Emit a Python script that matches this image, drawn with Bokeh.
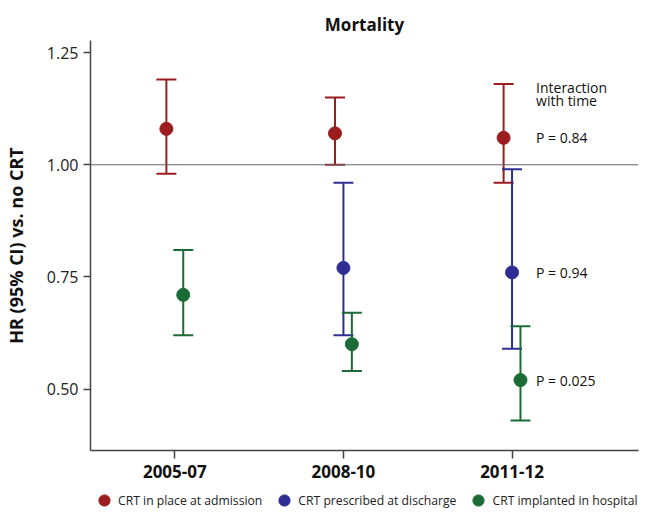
from bokeh.plotting import figure
from bokeh.layouts import column
from bokeh.models import (ColumnDataSource, Whisker, TeeHead, Legend, LegendItem,
                          FixedTicker, NumeralTickFormatter, Span, Range1d)
from bokeh.core.properties import value
from bokeh.embed import file_html
from bokeh.resources import INLINE

# ---------------- data ----------------
periods = ["2005-07", "2008-10", "2011-12"]
series_names = ["CRT in place at admission", "CRT prescribed at discharge", "CRT implanted in hospital"]
series_colors = ["#9b1d20", "#2e2e92", "#1a6b35"]

admission_hr = [1.08, 1.07, 1.06]
admission_lo = [0.98, 1.00, 0.96]
admission_hi = [1.19, 1.15, 1.18]

discharge_hr = [None, 0.77, 0.76]
discharge_lo = [None, 0.62, 0.59]
discharge_hi = [None, 0.96, 0.99]

implanted_hr = [0.71, 0.60, 0.52]
implanted_lo = [0.62, 0.54, 0.43]
implanted_hi = [0.81, 0.67, 0.64]

p_values = ["P = 0.84", "P = 0.94", "P = 0.025"]
interaction_lines = ["Interaction", "with time"]
y_ticks = [0.50, 0.75, 1.00, 1.25]
reference_hr = 1.0

FONT = "Open Sans"

series = [
    (admission_hr, admission_lo, admission_hi),
    (discharge_hr, discharge_lo, discharge_hi),
    (implanted_hr, implanted_lo, implanted_hi),
]
dodge = [-0.05, 0.0, 0.05]

p = figure(width=640, height=486, output_backend="svg", toolbar_location=None,
           x_range=Range1d(-0.5, 2.75), y_range=Range1d(0.363, 1.277),
           min_border_left=84, min_border_right=2, min_border_top=40, min_border_bottom=36)

p.title.text = "Mortality"
p.title.align = "center"
p.title.text_font = FONT
p.title.text_font_size = "17px"
p.title.text_font_style = "bold"
p.title.text_color = "#111111"

p.xgrid.visible = False
p.ygrid.visible = False
p.outline_line_color = None

ref = Span(location=reference_hr, dimension="width", line_color="#666666", line_width=1.2)
p.add_layout(ref)

# legend-only strip below the chart (shares the same data sources; points kept out of its view)
leg_fig = figure(width=640, height=28, output_backend="svg", toolbar_location=None,
                 x_range=Range1d(-0.5, 2.75), y_range=Range1d(10, 11),
                 x_axis_location=None, y_axis_location=None,
                 min_border_left=0, min_border_right=0, min_border_top=0, min_border_bottom=0)
leg_fig.xgrid.visible = False
leg_fig.ygrid.visible = False
leg_fig.outline_line_color = None
leg_fig.background_fill_alpha = 0
leg_fig.border_fill_alpha = 0

legend_items = []
for k, ((hr, lo, hi), name, col) in enumerate(zip(series, series_names, series_colors)):
    xs, ys, los, his = [], [], [], []
    for i, (h, l, u) in enumerate(zip(hr, lo, hi)):
        if h is None:
            continue
        xs.append(i + dodge[k]); ys.append(h); los.append(l); his.append(u)
    src = ColumnDataSource(dict(x=xs, y=ys, lower=los, upper=his))
    w = Whisker(source=src, base="x", lower="lower", upper="upper", dimension="height",
                line_color=col, line_width=2,
                upper_head=TeeHead(size=20, line_color=col, line_width=2),
                lower_head=TeeHead(size=20, line_color=col, line_width=2))
    p.add_layout(w)
    p.scatter("x", "y", source=src, size=13, color=col, line_color=col)
    r2 = leg_fig.scatter("x", "y", source=src, size=13, color=col, line_color=col)
    legend_items.append(LegendItem(label=name, renderers=[r2]))

# P-value annotations next to the last period points
last = len(periods) - 1
p.text(x=[last] * 3, y=[admission_hr[last], discharge_hr[last], implanted_hr[last]],
       text=p_values, x_offset=24, text_baseline="middle", text_align="left",
       text_font=value(FONT), text_font_size="14px", text_color="#111111")
p.text(x=[last] * 2, y=[admission_hr[last]] * 2, text=interaction_lines, x_offset=24,
       y_offset=[-50, -37], text_baseline="middle", text_align="left",
       text_font=value(FONT), text_font_size="14px", text_color="#111111")

# axes
xa = p.xaxis[0]
xa.ticker = FixedTicker(ticks=list(range(len(periods))))
xa.major_label_overrides = {i: s for i, s in enumerate(periods)}
xa.major_label_text_font = FONT
xa.major_label_text_font_size = "17px"
xa.major_label_text_font_style = "bold"
xa.major_label_text_color = "#111111"
xa.major_tick_in = 0
xa.major_tick_out = 8
xa.minor_tick_line_color = None
xa.axis_line_color = "#444444"
xa.axis_line_width = 1.5
xa.major_tick_line_color = "#444444"
xa.major_tick_line_width = 1.5
xa.major_label_standoff = 6

ya = p.yaxis[0]
ya.ticker = FixedTicker(ticks=y_ticks)
ya.formatter = NumeralTickFormatter(format="0.00")
ya.axis_label = "HR (95% CI) vs. no CRT"
ya.axis_label_text_font = FONT
ya.axis_label_text_font_size = "18px"
ya.axis_label_text_font_style = "bold"
ya.axis_label_text_color = "#111111"
ya.axis_label_standoff = 16
ya.major_label_text_font = FONT
ya.major_label_text_font_size = "16px"
ya.major_label_text_color = "#222222"
ya.major_tick_in = 0
ya.major_tick_out = 7
ya.minor_tick_line_color = None
ya.axis_line_color = "#444444"
ya.axis_line_width = 1.5
ya.major_tick_line_color = "#444444"
ya.major_tick_line_width = 1.5

legend = Legend(items=legend_items, orientation="horizontal", location=(0, 0),
                glyph_width=28, glyph_height=28, label_standoff=0, spacing=8,
                padding=0, margin=0, border_line_color=None, background_fill_alpha=0,
                label_text_font=FONT, label_text_font_size="12.2px", label_text_color="#222222")
leg_fig.add_layout(legend, "center")

layout = column(p, leg_fig, spacing=0)
open("out.html", "w").write(file_html(layout, INLINE))
